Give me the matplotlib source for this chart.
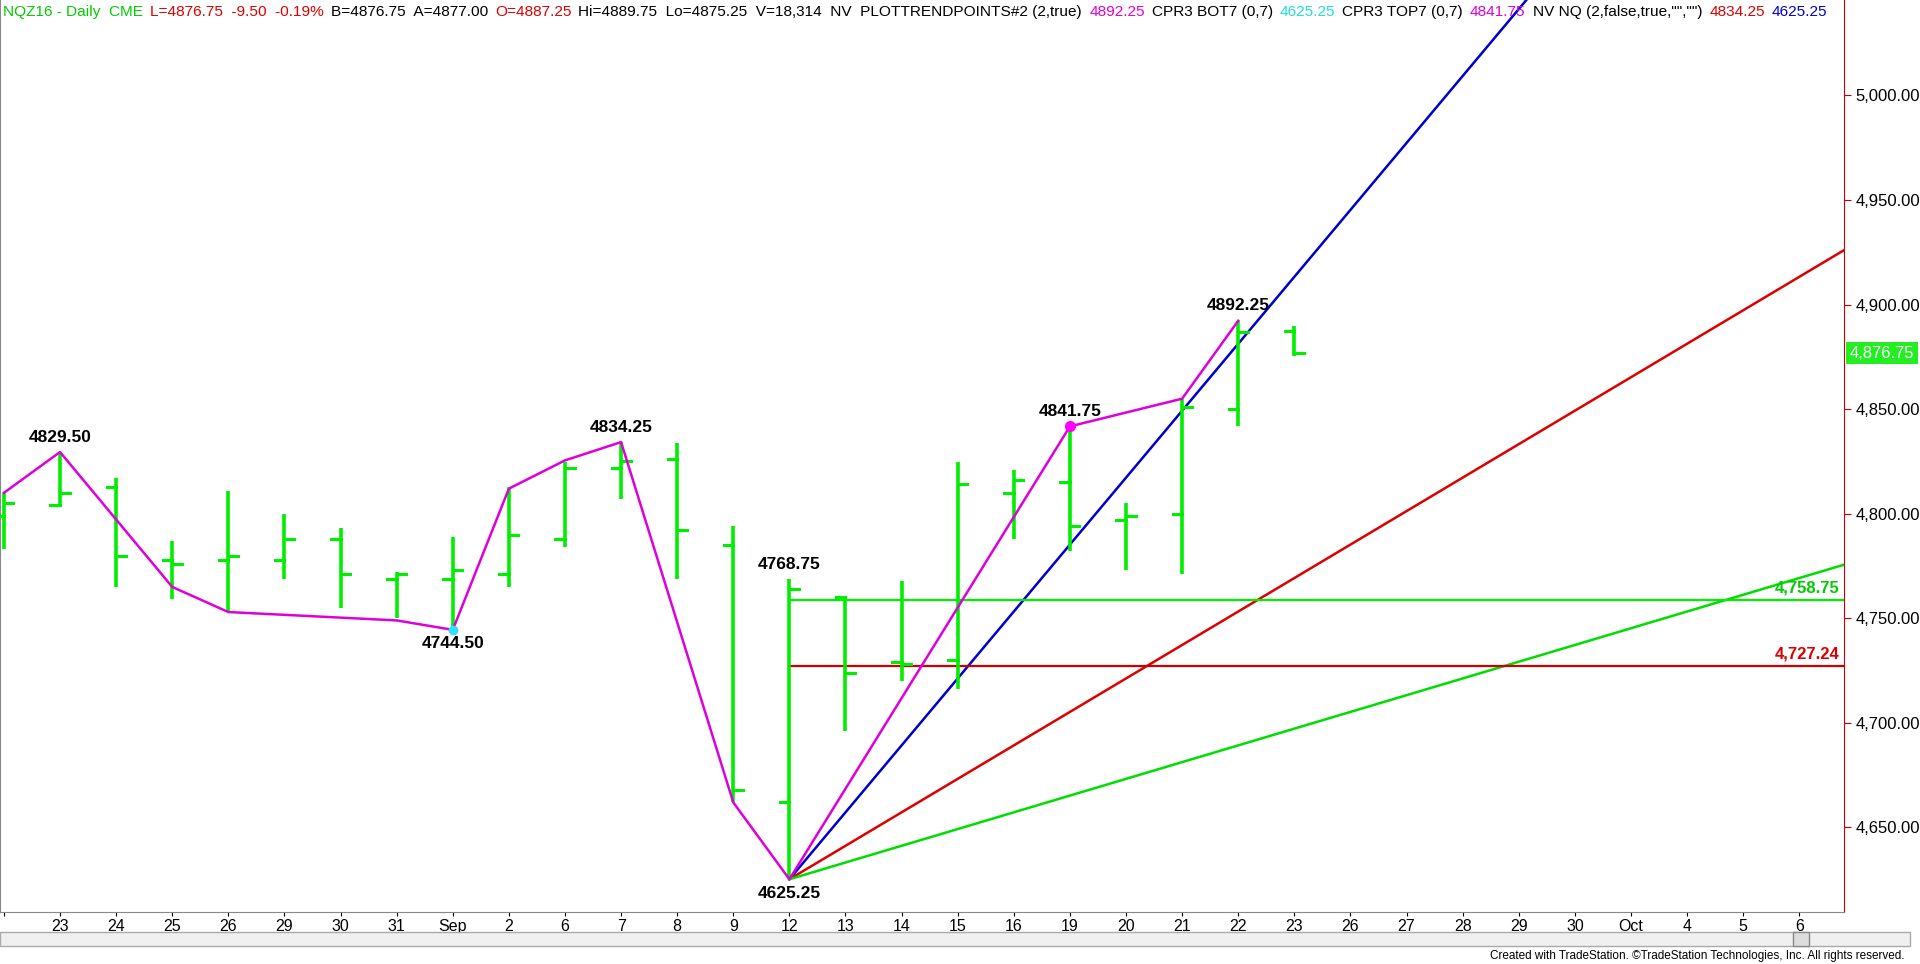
import matplotlib
matplotlib.use("Agg")
import matplotlib.pyplot as plt
from matplotlib.patches import Rectangle

plt.rcParams['font.family'] = ['Liberation Sans', 'DejaVu Sans']

dates = ["", "23", "24", "25", "26", "29", "30", "31", "Sep", "2", "6", "7", "8", "9", "12",
         "13", "14", "15", "16", "19", "20", "21", "22", "23"]
future_labels = ["26", "27", "28", "29", "30", "Oct", "4", "5", "6"]
opens = [4799, 4804, 4813, 4778, 4778, 4778, 4788, 4769, 4769, 4771, 4788, 4822, 4826, 4785, 4662,
         4760, 4729, 4730, 4810, 4815, 4797, 4800, 4850, 4887.25]
highs = [4810, 4829.5, 4817, 4787, 4811, 4800, 4793, 4772, 4789, 4813, 4824.5, 4834.25, 4834, 4794, 4768.75,
         4760.5, 4768, 4824.5, 4821, 4841.75, 4805, 4855, 4892.25, 4889.75]
lows = [4783, 4803, 4765, 4759, 4753, 4769, 4755, 4750, 4744.5, 4765, 4784, 4807, 4769, 4662, 4625.25,
        4696, 4720, 4716, 4788, 4782, 4773, 4771, 4842, 4875.25]
closes = [4805, 4810, 4780, 4776, 4780, 4788, 4771, 4771, 4773, 4790, 4822, 4825, 4792, 4668, 4764,
          4724, 4728, 4814, 4816, 4794, 4799, 4851, 4887, 4876.75]

swing_idx = [-1, 0, 2, 3, 6, 7, 8, 9, 10, 12, 13, 18, 20, 21]
swing_val = [4810, 4829.5, 4765, 4753, 4749, 4744.5, 4812, 4825.5, 4834.25, 4662, 4625.25, 4841.75, 4855, 4892.25]

pivot_labels = [(0, 4829.50, "above"), (7, 4744.50, "below"), (10, 4834.25, "above"),
                (13, 4768.75, "above"), (13, 4625.25, "below"), (18, 4841.75, "above"),
                (21, 4892.25, "above")]

anchor_i, anchor_p = 13, 4625.25
fan_slopes = [32.0, 16.0, 8.0]
fan_colors = ["#0000cc", "#dd0000", "#00dd00"]
hline_green = 4758.75
hline_red = 4727.24
last_price = 4876.75
yticks = [4650, 4700, 4750, 4800, 4850, 4900, 4950, 5000]

W, H = 1920, 964
fig = plt.figure(figsize=(W / 100, H / 100), dpi=100)
ax = fig.add_axes([0.0, 1 - 912 / H, 0.9605, 912 / H])
xmin, xmax = -1.07, 31.8
ymin, ymax = 4609.6, 5045.6
ax.set_ylim(ymin, ymax)

GREEN = "#00ee00"
n = len(dates)
xs = [i - 1 for i in range(n)]
for x, o, h, l, c in zip(xs, opens, highs, lows, closes):
    ax.plot([x, x], [l, h], color=GREEN, lw=2.6, solid_capstyle='butt', zorder=3)
    ax.plot([x - 0.17, x], [o, o], color=GREEN, lw=2.2, zorder=3)
    ax.plot([x, x + 0.17], [c, c], color=GREEN, lw=2.2, zorder=3)

ax.plot(swing_idx, swing_val, color="#dd00dd", lw=1.8, zorder=4)
ax.plot([18], [4841.75], 'o', color="#ff00ff", ms=7, zorder=5)
ax.plot([7], [4744.5], 'o', color="#33ddff", ms=6, zorder=5)

for i, p, pos in pivot_labels:
    if pos == "above":
        ax.text(i, p + 3.5, f"{p:.2f}", ha='center', va='bottom', fontsize=12.5, fontweight='bold', zorder=6)
    else:
        ax.text(i, p - 3, f"{p:.2f}", ha='center', va='top', fontsize=12.5, fontweight='bold', zorder=6)

for s, col in zip(fan_slopes, fan_colors):
    ax.plot([anchor_i, xmax + 2], [anchor_p, anchor_p + s * (xmax + 2 - anchor_i)], color=col, lw=1.8, zorder=2)

ax.plot([anchor_i, xmax], [hline_green, hline_green], color=GREEN, lw=1.6, zorder=2)
ax.plot([anchor_i, xmax], [hline_red, hline_red], color="#cc0000", lw=1.6, zorder=2)
ax.text(xmax - 0.08, hline_green + 2, "4,758.75", color="#00cc00", ha='right', va='bottom', fontsize=12, fontweight='bold')
ax.text(xmax - 0.08, hline_red + 2, "4,727.24", color="#dd0000", ha='right', va='bottom', fontsize=12, fontweight='bold')

ax.yaxis.tick_right()
ax.set_yticks(yticks)
ax.set_yticklabels([f"{v:,.2f}" for v in yticks], fontsize=12)
ax.tick_params(axis='y', direction='out', length=5, pad=3, colors='#cc0000', labelcolor='black')
all_labels = dates + future_labels
ax.set_xticks(range(-1, len(all_labels) - 1))
ax.set_xticklabels(all_labels, fontsize=11.5)
ax.tick_params(axis='x', direction='out', length=3, pad=2)
ax.set_xlim(xmin, xmax)
ax.spines['top'].set_visible(False)
ax.spines['right'].set_color('#cc0000')
ax.spines['left'].set_color('#888888')
ax.spines['bottom'].set_color('#888888')

ax.text(1.003, (last_price - ymin) / (ymax - ymin), "4,876.75", transform=ax.transAxes,
        ha='left', va='center', fontsize=12, color='white',
        bbox=dict(boxstyle='square,pad=0.2', fc='#22ee22', ec='none'), clip_on=False)

header = [("NQZ16 - Daily  CME", "#00cc00"), ("L=4876.75  -9.50  -0.19%", "#dd0000"),
          ("B=4876.75  A=4877.00", "black"), ("O=4887.25", "#dd0000"),
          ("Hi=4889.75  Lo=4875.25  V=18,314  NV  PLOTTRENDPOINTS#2 (2,true)", "black"),
          ("4892.25", "#dd00dd"), ("CPR3 BOT7 (0,7)", "black"), ("4625.25", "#22dddd"),
          ("CPR3 TOP7 (0,7)", "black"), ("4841.75", "#dd00dd"),
          ('NV NQ (2,false,true,"","")', "black"), ("4834.25", "#dd0000"), ("4625.25", "#0000cc")]
fig.canvas.draw()
r = fig.canvas.get_renderer()
xpix = 3
for txt, col in header:
    t = fig.text(xpix / W, 1 - 12 / H, txt, color=col, fontsize=11.1, va='center', ha='left')
    bb = t.get_window_extent(renderer=r)
    xpix = bb.x1 + 7

fig.patches.append(Rectangle((0, 1 - 946 / H), 1910 / W, 14 / H, transform=fig.transFigure,
                             fc='#f0f0f0', ec='#aaaaaa', lw=1))
fig.patches.append(Rectangle((1793 / W, 1 - 946 / H), 16 / W, 14 / H, transform=fig.transFigure,
                             fc='#dddddd', ec='#888888', lw=1))
fig.text(1905 / W, 1 - 956 / H, "Created with TradeStation. \u00a9TradeStation Technologies, Inc. All rights reserved.",
         ha='right', va='center', fontsize=8.5)

fig.savefig("out.png", dpi=100)
